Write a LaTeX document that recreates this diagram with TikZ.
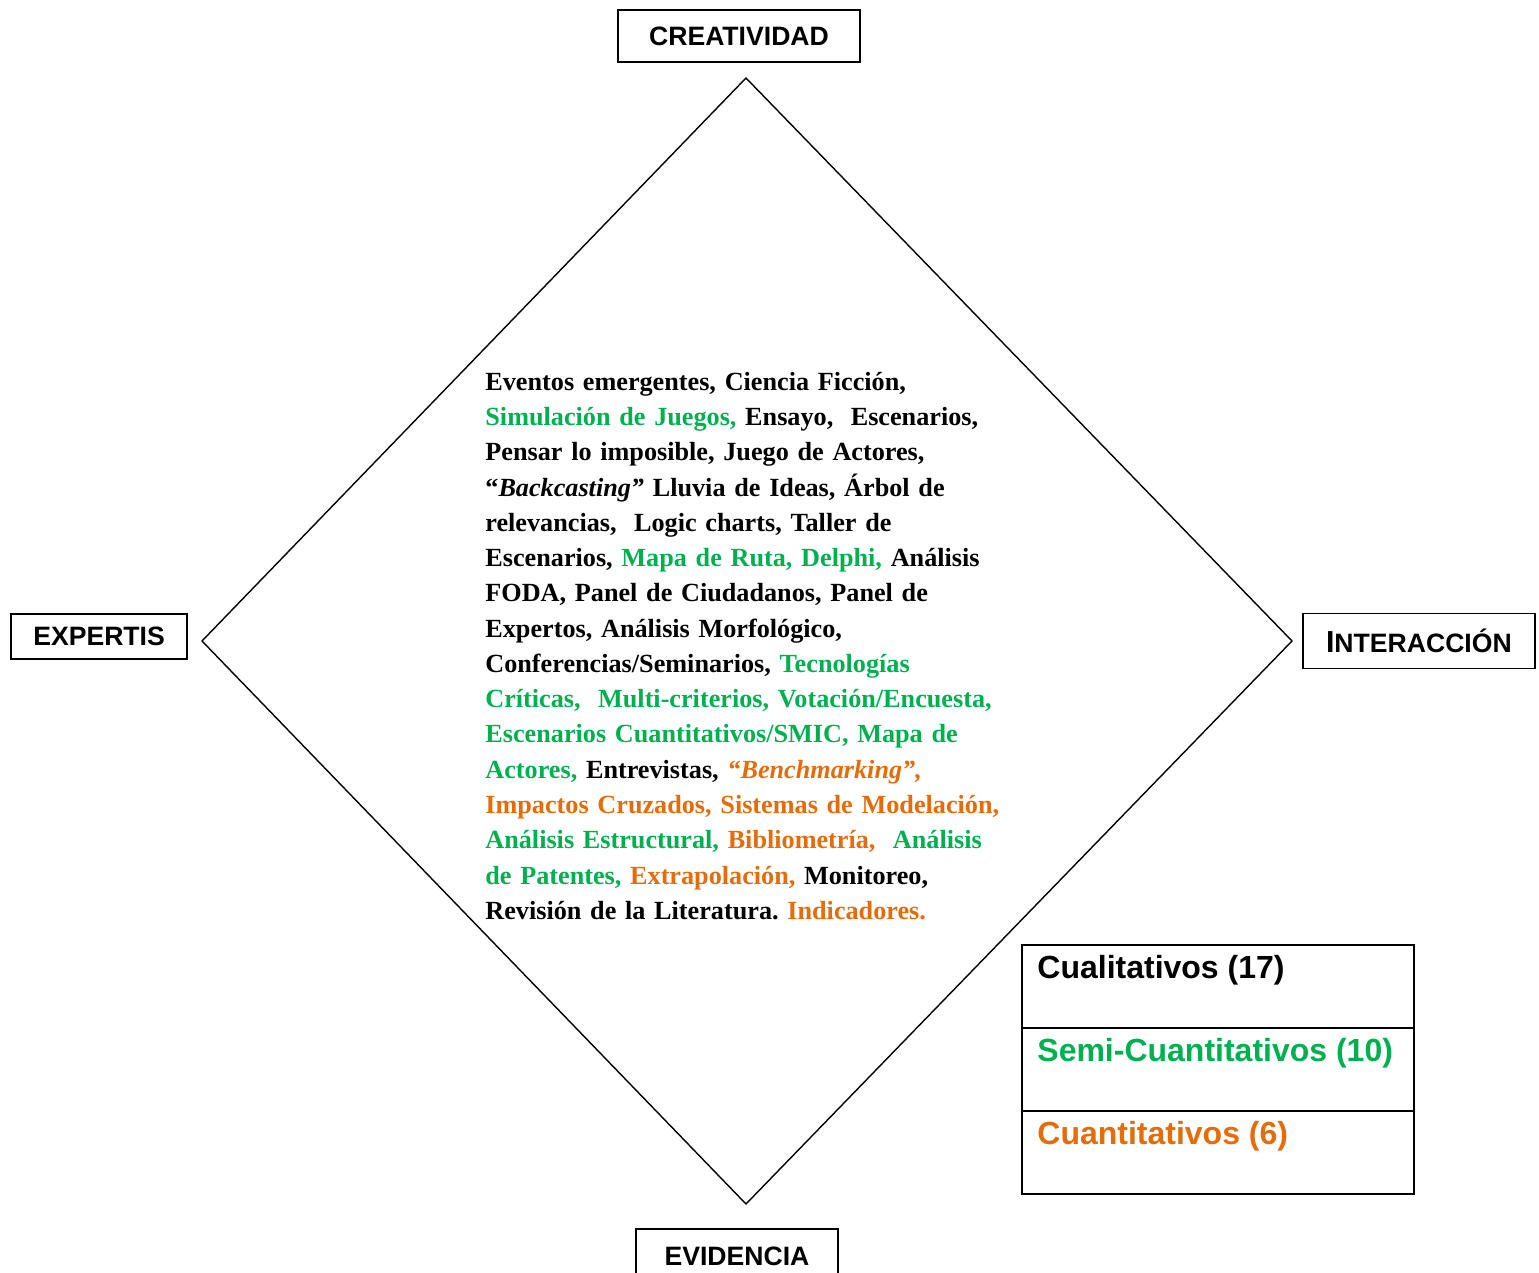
\documentclass[tikz,border=0pt]{standalone}
\usepackage{fontspec}
\setmainfont{Liberation Serif}
\setsansfont{Liberation Sans}
\usepackage{tikz}
\usetikzlibrary{positioning, calc}
\definecolor{metgreen}{RGB}{0, 176, 80}
\definecolor{metorange}{RGB}{228, 108, 10}
\tikzset{
    axislabel/.style={rectangle, draw=black, line width=0.9pt, font=\sffamily\bfseries\fontsize{13.3}{16}\selectfont, text centered},
    legendrow/.style={rectangle, draw=black, line width=1pt, outer sep=0pt, minimum width=196pt, minimum height=41.5pt},
    legendtext/.style={inner sep=0pt, font=\sffamily\bfseries\fontsize{16}{19}\selectfont},
    methods/.style={inner sep=0pt, text width=262pt, align=left, font=\bfseries\fontsize{13.1}{17.63}\selectfont\frenchspacing},
    diamondline/.style={line width=0.7pt}
}
\newcommand{\gr}[1]{\textcolor{metgreen}{#1}}
\newcommand{\og}[1]{\textcolor{metorange}{#1}}

\begin{document}
\begin{tikzpicture}[x=0.5pt, y=-0.5pt]
    \useasboundingbox (0,0) rectangle (1539,1273);

    % diamond corners
    \coordinate (top) at (746,78);
    \coordinate (left) at (202,641);
    \coordinate (right) at (1292,641);
    \coordinate (bottom) at (746,1204);
    \draw [diamondline] (top) -- (right) -- (bottom) -- (left) -- cycle;

    % axis labels
    \node (creat) [axislabel, above=7.5pt of top, xshift=-3.5pt, minimum width=121pt, minimum height=26pt] {CREATIVIDAD};
    \node (expert) [axislabel, left=7pt of left, yshift=2.25pt, minimum width=88pt, minimum height=22.5pt] {EXPERTIS};
    \node (inter) [axislabel, right=5pt of right, minimum width=116pt, minimum height=27.5pt] {{\fontsize{15.2}{16}\selectfont I}NTERACCIÓN};
    \node (evid) [axislabel, below=12pt of bottom, xshift=-4.5pt, minimum width=101pt, minimum height=27.5pt] {EVIDENCIA};

    % methods inside the diamond
    \node (list) [methods, anchor=north west] at (485,365.3) {\strut Eventos emergentes, Ciencia Ficción,\\
        \gr{Simulación de Juegos,} Ensayo,\ \ Escenarios,\\
        Pensar lo imposible, Juego de Actores,\\
        “\textit{Backcasting”} Lluvia de Ideas, Árbol de\\
        relevancias,\ \ Logic charts, Taller de\\
        Escenarios, \gr{Mapa de Ruta, Delphi,} Análisis\\
        FODA, Panel de Ciudadanos, Panel de\\
        Expertos, Análisis Morfológico,\\
        Conferencias/Seminarios, \gr{Tecnologías}\\
        \gr{Críticas,\ \ Multi-criterios, Votación/Encuesta,}\\
        \gr{Escenarios Cuantitativos/SMIC, Mapa de}\\
        \gr{Actores,} Entrevistas, \og{\textit{“Benchmarking”,}}\\
        \og{Impactos Cruzados, Sistemas de Modelación,}\\
        \gr{Análisis Estructural,} \og{Bibliometría,}\ \ \gr{Análisis}\\
        \gr{de Patentes,} \og{Extrapolación,} Monitoreo,\\
        Revisión de la Literatura. \og{Indicadores.}};

    % legend
    \node (qual) [legendrow] at (1218,986.5) {};
    \node (semi) [legendrow, below=0pt of qual] {};
    \node (quant) [legendrow, below=0pt of semi] {};
    \node (qualtxt) [legendtext, below right=5pt and 7.5pt of qual.north west] {Cualitativos (17)};
    \node (semitxt) [legendtext, below right=5pt and 7.5pt of semi.north west, text=metgreen] {Semi-Cuantitativos (10)};
    \node (quanttxt) [legendtext, below right=5pt and 7.5pt of quant.north west, text=metorange] {Cuantitativos (6)};
\end{tikzpicture}
\end{document}
